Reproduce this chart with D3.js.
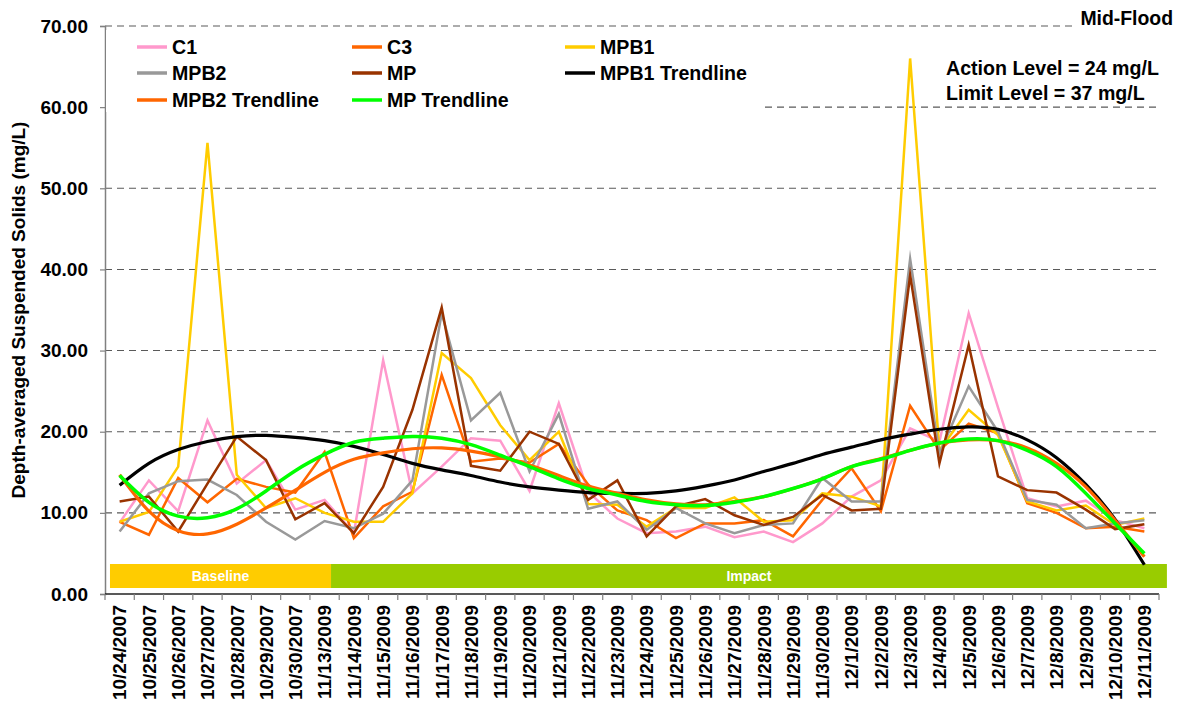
<!DOCTYPE html>
<html>
<head>
<meta charset="utf-8">
<script src="https://cdn.jsdelivr.net/npm/d3@7"></script>
<style>
  html, body { margin: 0; padding: 0; background: #fff; }
  svg text { font-family: "Liberation Sans", Arial, Helvetica, sans-serif; font-weight: bold; }
</style>
</head>
<body>
<svg id="chart" width="1180" height="713"></svg>
<script>
const categories = ["10/24/2007","10/25/2007","10/26/2007","10/27/2007","10/28/2007","10/29/2007","10/30/2007",
  "11/13/2009","11/14/2009","11/15/2009","11/16/2009","11/17/2009","11/18/2009","11/19/2009","11/20/2009",
  "11/21/2009","11/22/2009","11/23/2009","11/24/2009","11/25/2009","11/26/2009","11/27/2009","11/28/2009",
  "11/29/2009","11/30/2009","12/1/2009","12/2/2009","12/3/2009","12/4/2009","12/5/2009","12/6/2009",
  "12/7/2009","12/8/2009","12/9/2009","12/10/2009","12/11/2009"];

const c1   = [8.8,14.0,10.2,21.4,13.6,16.5,10.4,11.6,7.5,28.8,12.4,15.7,19.2,18.9,12.7,23.5,12.6,9.3,7.5,7.7,8.3,7.0,7.7,6.4,8.7,12.0,14.0,20.4,18.8,34.6,23.0,11.8,10.8,11.5,9.1,8.1];
const c3   = [8.9,7.3,14.3,11.3,14.2,13.2,12.5,17.5,6.9,10.8,12.6,27.0,16.3,16.7,16.2,18.5,13.5,10.3,9.1,6.9,8.7,8.7,9.1,7.1,11.6,15.5,10.2,23.2,17.7,21.0,19.8,11.2,10.0,8.1,8.3,7.7];
const mpb1 = [8.9,10.1,15.7,55.6,14.7,10.6,11.8,10.0,8.9,8.9,12.4,29.7,26.6,20.8,16.5,20.0,11.1,11.0,8.3,10.6,10.6,11.9,8.9,9.1,12.4,12.0,10.8,66.0,17.7,22.7,19.6,11.4,10.3,10.9,8.5,9.3];
const mpb2 = [7.7,12.4,13.9,14.1,12.2,8.9,6.7,9.0,8.1,9.9,14.0,34.6,21.4,24.8,15.1,22.2,10.5,11.4,7.9,10.6,8.7,7.5,8.5,8.7,14.3,11.4,11.4,41.3,17.3,25.6,20.0,11.6,11.0,8.1,8.7,9.1];
const mp   = [11.4,12.0,7.7,13.6,19.4,16.5,9.2,11.2,7.5,13.2,22.7,35.3,15.8,15.2,20.0,18.5,11.6,14.0,7.1,10.8,11.7,9.7,8.5,9.5,12.2,10.3,10.5,39.3,16.1,30.7,14.5,12.8,12.5,10.4,8.0,8.6];

const mpb1Trend = [13.4,16.1,17.8,18.8,19.4,19.55,19.3,18.9,18.2,17.2,16.1,15.3,14.6,13.8,13.2,12.8,12.5,12.4,12.4,12.7,13.3,14.05,15.1,16.1,17.2,18.1,19.0,19.7,20.3,20.6,20.3,19.0,16.8,13.5,9.2,3.6];
const mpb2Trend = [14.7,10.2,7.8,7.4,8.6,10.6,12.8,15.0,16.6,17.4,17.9,18.0,17.6,16.9,15.9,14.6,13.3,12.4,11.6,11.1,11.0,11.4,12.0,13.0,14.2,15.7,16.7,17.7,18.6,19.0,18.9,18.0,16.1,13.2,9.1,4.6];
const mpTrend   = [14.6,11.3,9.6,9.4,10.5,12.7,15.2,17.2,18.7,19.2,19.4,19.2,18.4,17.1,15.7,14.2,13.0,12.2,11.4,11.0,10.9,11.3,12.0,13.0,14.2,15.7,16.6,17.7,18.6,19.1,18.9,17.7,15.7,12.4,8.7,5.0];

const seriesNames = ["C1","C3","MPB1","MPB2","MP","MPB1 Trendline","MPB2 Trendline","MP Trendline"];
const seriesData  = [c1, c3, mpb1, mpb2, mp, mpb1Trend, mpb2Trend, mpTrend];
const seriesColors = ["#FF99CC","#FF6600","#FFCC00","#999999","#993300","#000000","#FF6600","#00FF00"];
const yTicks = [0,10,20,30,40,50,60,70];
const periods = ["Baseline","Impact"];
const periodColors = ["#FFCC00","#99CC00"];
const annotations = ["Action Level = 24 mg/L","Limit Level = 37 mg/L"];
const chartTag = "Mid-Flood";
const yTitle = "Depth-averaged Suspended Solids (mg/L)";

const svg = d3.select("#chart");
svg.append("rect").attr("width",1180).attr("height",713).attr("fill","#fff");

const L = 105, R = 1159, T = 26, B = 594;
const x = d3.scaleBand().domain(categories).range([L, R]).padding(0);
const bw = x.bandwidth();
const cx = d => x(d) + bw/2;
const y = d3.scaleLinear().domain([0,70]).range([B, T]);

// gridlines
svg.append("g").selectAll("line").data(yTicks.filter(v => v > 0)).join("line")
  .attr("x1", L).attr("x2", R).attr("y1", d => y(d)).attr("y2", d => y(d))
  .attr("stroke", "#5a5a5a").attr("stroke-width", 1.1).attr("stroke-dasharray", "7,5");

// period bands
const bandTop = 564, bandBot = 588;
const bx = [x(categories[0]) + bw*0.17, x(categories[7]) + bw*0.72, x(categories[35]) + bw*1.27];
periods.forEach((p, i) => {
  svg.append("rect").attr("x", bx[i]).attr("y", bandTop).attr("width", bx[i+1]-bx[i]).attr("height", bandBot-bandTop)
    .attr("fill", periodColors[i]);
  svg.append("text").attr("x", (bx[i]+bx[i+1])/2).attr("y", (bandTop+bandBot)/2).attr("dy","0.36em")
    .attr("text-anchor","middle").attr("fill","#fff").attr("font-size",14).text(p);
});

// axes
const yAxis = d3.axisLeft(y).tickValues(yTicks).tickSize(5).tickPadding(12).tickFormat(d3.format(".2f"));
const gy = svg.append("g").attr("transform", `translate(${L},0)`).call(yAxis);
gy.select(".domain").attr("stroke","#808080").attr("stroke-width",1.5);
gy.selectAll(".tick line").attr("stroke","#808080").attr("stroke-width",1.2);
gy.selectAll(".tick text").attr("font-size",19).attr("fill","#000")
  .style("font-family","'Liberation Sans', Arial, sans-serif").style("font-weight","bold");

const gx = svg.append("g").attr("transform", `translate(0,${B})`);
gx.append("line").attr("x1", L).attr("x2", R).attr("y1", 0).attr("y2", 0).attr("stroke","#222").attr("stroke-width",1.5);
gx.selectAll("line.tk").data(d3.range(categories.length + 1)).join("line").attr("class","tk")
  .attr("x1", i => L + i*bw).attr("x2", i => L + i*bw).attr("y1", 0).attr("y2", 6)
  .attr("stroke","#808080").attr("stroke-width",1.2);
gx.selectAll("text").data(categories).join("text")
  .attr("transform", d => `translate(${cx(d)},11) rotate(-90)`)
  .attr("text-anchor","end").attr("dy","0.36em").attr("font-size",19).attr("fill","#000").text(d => d);

// y title
svg.append("text").attr("transform", `translate(18,${(T+B)/2}) rotate(-90)`)
  .attr("text-anchor","middle").attr("dy","0.36em").attr("font-size",19).text(yTitle);

// series lines
const linePoly = d3.line().x((d,i) => cx(categories[i])).y(d => y(d));
const lineSmooth = d3.line().x((d,i) => cx(categories[i])).y(d => y(d)).curve(d3.curveNatural);
const widths = [2.5,2.5,2.5,2.5,2.5,3.2,3.2,3.5];
seriesData.forEach((arr, k) => {
  svg.append("path").datum(arr)
    .attr("d", k < 5 ? linePoly : lineSmooth)
    .attr("fill","none").attr("stroke", seriesColors[k]).attr("stroke-width", widths[k])
    .attr("stroke-linejoin","miter").attr("stroke-miterlimit", 10);
});

// legend
svg.append("rect").attr("x", L+1).attr("y", 30).attr("width", 765-L-1).attr("height", 82).attr("fill","#fff");
const colX = [137, 352, 565];
const rowY = [47, 73, 100];
seriesNames.forEach((n, k) => {
  const cxl = colX[k % 3], ry = rowY[Math.floor(k / 3)];
  svg.append("line").attr("x1", cxl).attr("x2", cxl + 30).attr("y1", ry).attr("y2", ry)
    .attr("stroke", seriesColors[k]).attr("stroke-width", 3.5);
  svg.append("text").attr("x", cxl + 35).attr("y", ry).attr("dy","0.36em").attr("font-size",19.6).text(n);
});

// annotations
annotations.forEach((a, i) => {
  svg.append("text").attr("x", 946).attr("y", 68 + i*25).attr("dy","0.36em").attr("font-size",19.6).text(a);
});
svg.append("rect").attr("x", 1076).attr("y", 8).attr("width", 104).attr("height", 24).attr("fill","#fff");
svg.append("text").attr("x", 1173).attr("y", 18).attr("dy","0.36em").attr("text-anchor","end").attr("font-size",19.4).text(chartTag);
</script>
</body>
</html>
